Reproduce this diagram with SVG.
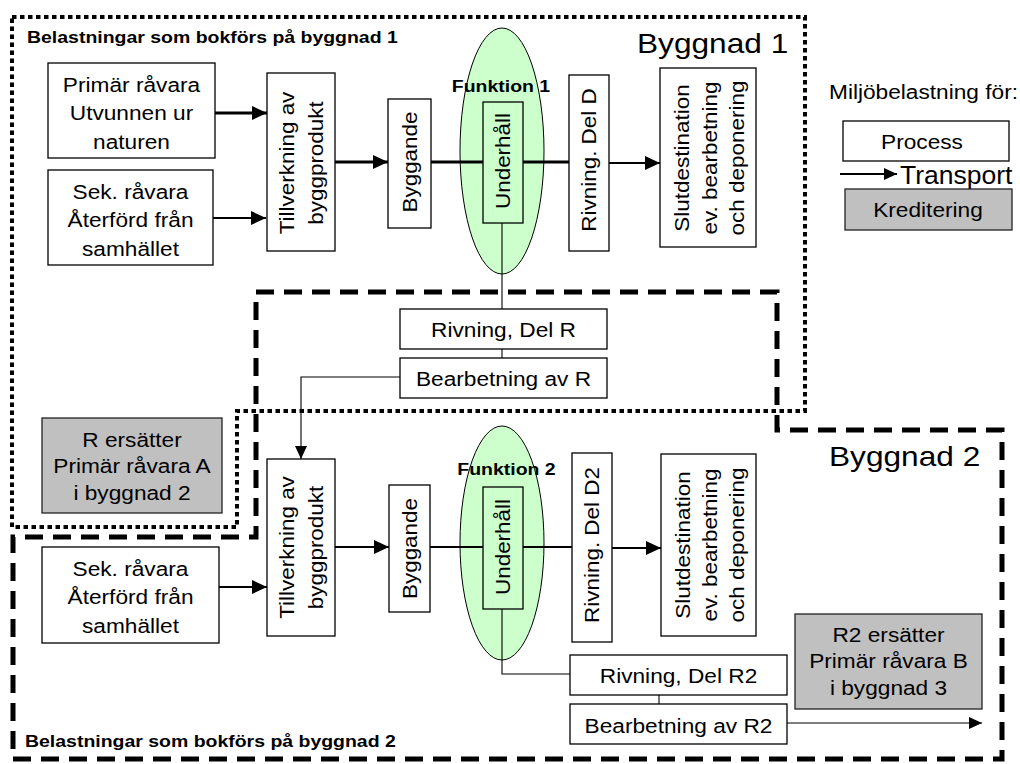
<svg xmlns="http://www.w3.org/2000/svg" width="1020" height="764" viewBox="0 0 1020 764">
<style>
.box{fill:#fff;stroke:#000;stroke-width:1.3}
.gray{fill:#c0c0c0;stroke:#222;stroke-width:1.3}
.ell{fill:#ccffcc;stroke:#000;stroke-width:1}
.open{fill:none;stroke:#000;stroke-width:1.3}
text{font-family:"Liberation Sans",Arial,sans-serif;fill:#000}
.t{font-size:21px;text-anchor:middle}
.v{font-size:21px;text-anchor:middle;dominant-baseline:central}
.b{font-size:16.5px;font-weight:bold}
.bc{font-size:16.5px;font-weight:bold;text-anchor:middle}
.big{font-size:28px}
.c3{fill:none;stroke:#000;stroke-width:3}
.c2{fill:none;stroke:#000;stroke-width:2.2}
.c1{fill:none;stroke:#000;stroke-width:1.1}
.dot{fill:none;stroke:#000;stroke-width:4;stroke-dasharray:4.5 3.5}
.dash{fill:none;stroke:#000;stroke-width:5;stroke-dasharray:18 10}
</style>
<defs>
<marker id="ah" markerUnits="userSpaceOnUse" markerWidth="15" markerHeight="14" refX="15" refY="7" orient="auto">
<path d="M0,0 L15,7 L0,14 z" fill="#000"/>
</marker>
<marker id="as" markerUnits="userSpaceOnUse" markerWidth="13" markerHeight="12" refX="13" refY="6" orient="auto">
<path d="M0,0 L13,6 L0,12 z" fill="#000"/>
</marker>
</defs>
<rect width="1020" height="764" fill="#fff"/>

<g id="boundaries">
<path class="dot" d="M12,17 H805 V411 H237 V527 H12 Z"/>
<path class="dash" d="M256,292 H777 V430 H1002 V759 H13 V537 H256 Z"/>
</g>

<g id="labels">
<text class="b" transform="translate(27,43) scale(1.18,1)">Belastningar som bokförs på byggnad 1</text>
<text class="b" transform="translate(25,747) scale(1.18,1)">Belastningar som bokförs på byggnad 2</text>
<text class="big" transform="translate(637,53) scale(1.13,1)">Byggnad 1</text>
<text class="big" transform="translate(829,466) scale(1.13,1)">Byggnad 2</text>
</g>

<g id="legend">
<text style="font-size:21px" transform="translate(829,99) scale(1.08,1)">Miljöbelastning för:</text>
<rect class="box" x="843" y="121" width="166" height="40"/>
<text class="t" transform="translate(922,149) scale(1.08,1)">Process</text>
<line class="c2" x1="840" y1="174" x2="897" y2="174" marker-end="url(#as)"/>
<text style="font-size:25px" transform="translate(900,184) scale(1.06,1)">Transport</text>
<rect class="gray" x="845" y="189" width="167" height="41"/>
<text class="t" transform="translate(928,217) scale(1.08,1)">Kreditering</text>
</g>

<g id="ellipse1"><ellipse class="ell" cx="502" cy="151" rx="42" ry="123"/></g>
<g id="ellipse2"><ellipse class="ell" cx="502" cy="543" rx="42" ry="117"/></g>

<g id="connectors">
<line class="c3" x1="215" y1="113" x2="267" y2="113" marker-end="url(#ah)"/>
<line class="c2" x1="213" y1="218" x2="266" y2="218" marker-end="url(#ah)"/>
<line class="c3" x1="335" y1="162" x2="388" y2="162" marker-end="url(#ah)"/>
<line class="c3" x1="431" y1="162" x2="483" y2="162"/>
<line class="c3" x1="523" y1="162" x2="569" y2="162"/>
<line class="c2" x1="609" y1="163" x2="660" y2="163" marker-end="url(#ah)"/>
<line class="c1" x1="502" y1="223" x2="502" y2="309"/>
<line class="c1" x1="502" y1="349" x2="502" y2="358"/>
<path class="c1" d="M400,377 H301 V459" marker-end="url(#as)"/>
<line class="c2" x1="219" y1="587" x2="267" y2="587" marker-end="url(#ah)"/>
<line class="c2" x1="335" y1="547" x2="389" y2="547" marker-end="url(#ah)"/>
<line class="c2" x1="430" y1="547" x2="483" y2="547"/>
<line class="c2" x1="523" y1="547" x2="572" y2="547"/>
<line class="c2" x1="612" y1="548" x2="661" y2="548" marker-end="url(#ah)"/>
<path class="c1" d="M502,609 V674 H570"/>
<line class="c1" x1="659" y1="695" x2="659" y2="704"/>
<line class="c1" x1="787" y1="723" x2="982" y2="723" marker-end="url(#as)"/>
</g>

<g id="primar">
<rect class="box" x="48" y="63" width="167" height="95"/>
<text class="t" transform="translate(131.5,92) scale(1.08,1)"><tspan x="0" y="0">Primär råvara</tspan><tspan x="0" y="28.5">Utvunnen ur</tspan><tspan x="0" y="57">naturen</tspan></text>
</g>
<g id="sek1">
<rect class="box" x="48" y="170" width="165" height="95"/>
<text class="t" transform="translate(130.5,199) scale(1.08,1)"><tspan x="0" y="0">Sek. råvara</tspan><tspan x="0" y="28.5">Återförd från</tspan><tspan x="0" y="57">samhället</tspan></text>
</g>
<g id="tillverkning1">
<rect class="box" x="267" y="73" width="68" height="178"/>
<text class="v" transform="translate(286.5,163) rotate(-90) scale(1.07,1)">Tillverkning av</text>
<text class="v" transform="translate(315.5,163) rotate(-90) scale(1.07,1)">byggprodukt</text>
</g>
<g id="byggande1">
<rect class="box" x="388" y="99" width="43" height="129"/>
<text class="v" transform="translate(409.5,162) rotate(-90) scale(1.07,1)">Byggande</text>
</g>
<g id="underhall1">
<rect class="open" x="483" y="102" width="40" height="121"/>
<text class="v" transform="translate(503,161) rotate(-90) scale(1.07,1)">Underhåll</text>
<text class="bc" transform="translate(501,92) scale(1.18,1)">Funktion 1</text>
</g>
<g id="rivningD">
<rect class="box" x="569" y="75" width="40" height="176"/>
<text class="v" transform="translate(589,160) rotate(-90) scale(1.07,1)">Rivning. Del D</text>
</g>
<g id="slut1">
<rect class="box" x="660" y="68" width="96" height="179"/>
<text class="v" transform="translate(682,158) rotate(-90) scale(1.07,1)">Slutdestination</text>
<text class="v" transform="translate(709.5,158) rotate(-90) scale(1.07,1)">ev. bearbetning</text>
<text class="v" transform="translate(737,158) rotate(-90) scale(1.07,1)">och deponering</text>
</g>
<g id="rivningR">
<rect class="box" x="400" y="309" width="207" height="40"/>
<text class="t" transform="translate(503.5,337) scale(1.08,1)">Rivning, Del R</text>
</g>
<g id="bearbetningR">
<rect class="box" x="400" y="358" width="207" height="40"/>
<text class="t" transform="translate(503.5,386) scale(1.08,1)">Bearbetning av R</text>
</g>
<g id="rErsatter">
<rect class="gray" x="42" y="418" width="180" height="95"/>
<text class="t" transform="translate(132,447) scale(1.08,1)"><tspan x="0" y="0">R ersätter</tspan><tspan x="0" y="26.3">Primär råvara A</tspan><tspan x="0" y="52.6">i byggnad 2</tspan></text>
</g>
<g id="tillverkning2">
<rect class="box" x="267" y="459" width="68" height="177"/>
<text class="v" transform="translate(286.5,547.5) rotate(-90) scale(1.07,1)">Tillverkning av</text>
<text class="v" transform="translate(315.5,547.5) rotate(-90) scale(1.07,1)">byggprodukt</text>
</g>
<g id="byggande2">
<rect class="box" x="389" y="485" width="41" height="127"/>
<text class="v" transform="translate(409.5,548.5) rotate(-90) scale(1.07,1)">Byggande</text>
</g>
<g id="underhall2">
<rect class="open" x="483" y="487" width="40" height="122"/>
<text class="v" transform="translate(503,547) rotate(-90) scale(1.07,1)">Underhåll</text>
<text class="bc" transform="translate(506.5,475) scale(1.18,1)">Funktion 2</text>
</g>
<g id="rivningD2">
<rect class="box" x="572" y="453" width="40" height="189"/>
<text class="v" transform="translate(592,545) rotate(-90) scale(1.07,1)">Rivning. Del D2</text>
</g>
<g id="slut2">
<rect class="box" x="661" y="454" width="95" height="182"/>
<text class="v" transform="translate(683,545) rotate(-90) scale(1.07,1)">Slutdestination</text>
<text class="v" transform="translate(710,545) rotate(-90) scale(1.07,1)">ev. bearbetning</text>
<text class="v" transform="translate(737,545) rotate(-90) scale(1.07,1)">och deponering</text>
</g>
<g id="sek2">
<rect class="box" x="42" y="547" width="177" height="96"/>
<text class="t" transform="translate(130.5,576) scale(1.08,1)"><tspan x="0" y="0">Sek. råvara</tspan><tspan x="0" y="28.5">Återförd från</tspan><tspan x="0" y="57">samhället</tspan></text>
</g>
<g id="rivningR2">
<rect class="box" x="570" y="655" width="217" height="40"/>
<text class="t" transform="translate(678.5,683) scale(1.08,1)">Rivning, Del R2</text>
</g>
<g id="bearbetningR2">
<rect class="box" x="570" y="704" width="217" height="40"/>
<text class="t" transform="translate(678.5,732.5) scale(1.08,1)">Bearbetning av R2</text>
</g>
<g id="r2Ersatter">
<rect class="gray" x="795" y="614" width="187" height="95"/>
<text class="t" transform="translate(888.5,642) scale(1.08,1)"><tspan x="0" y="0">R2 ersätter</tspan><tspan x="0" y="26.5">Primär råvara B</tspan><tspan x="0" y="53">i byggnad 3</tspan></text>
</g>
</svg>
